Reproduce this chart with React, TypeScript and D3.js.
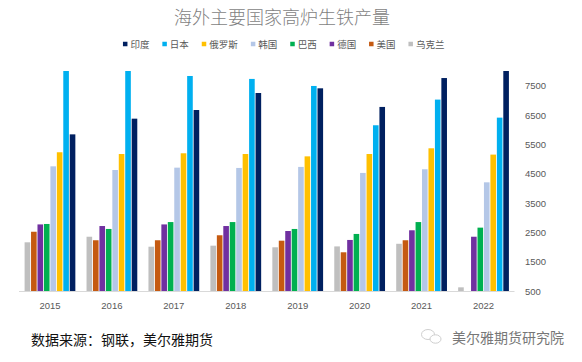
import React from "react";
import * as d3 from "d3";

const years = ["2015", "2016", "2017", "2018", "2019", "2020", "2021", "2022"];
// Bar order within each group (left to right)
const barSeries = ["乌克兰", "美国", "德国", "巴西", "韩国", "俄罗斯", "日本", "印度"];
// Legend order
const legendSeries = ["印度", "日本", "俄罗斯", "韩国", "巴西", "德国", "美国", "乌克兰"];

const ukraine = [2160, 2350, 2010, 2045, 1990, 2020, 2110, 625];
const usa = [2520, 2230, 2230, 2400, 2215, 1820, 2230, null];
const germany = [2770, 2715, 2770, 2715, 2545, 2240, 2570, 2350];
const brazil = [2785, 2615, 2850, 2850, 2615, 2445, 2850, 2660];
const korea = [4750, 4625, 4705, 4695, 4730, 4525, 4650, 4205];
const russia = [5230, 5170, 5195, 5170, 5090, 5170, 5365, 5150];
const japan = [8100, 8050, 7830, 7730, 7490, 6150, 7025, 6410];
const india = [5840, 6375, 6670, 7250, 7410, 6775, 7760, 8050];

const yTicks = [500, 1500, 2500, 3500, 4500, 5500, 6500, 7500];

const seriesValues: Record<string, (number | null)[]> = {
  乌克兰: ukraine,
  美国: usa,
  德国: germany,
  巴西: brazil,
  韩国: korea,
  俄罗斯: russia,
  日本: japan,
  印度: india,
};

const colors: Record<string, string> = {
  印度: "#002060",
  日本: "#00B0F0",
  俄罗斯: "#FFC000",
  韩国: "#B4C7E7",
  巴西: "#00B050",
  德国: "#7030A0",
  美国: "#C55A11",
  乌克兰: "#BFBFBF",
};

const W = 582;
const H = 362;
const plot = { left: 19, right: 514.5, top: 71, bottom: 291 };
const cjk = "'Noto Sans CJK SC', 'Noto Sans', sans-serif";
const num = "'Liberation Sans', 'DejaVu Sans', sans-serif";

export default function App() {
  const x0 = d3
    .scaleBand<string>()
    .domain(years)
    .range([plot.left, plot.right])
    .paddingInner(0.168)
    .paddingOuter(0.084);
  const x1 = d3
    .scaleBand<string>()
    .domain(barSeries)
    .range([0, x0.bandwidth()])
    .paddingInner(0.13)
    .paddingOuter(0.06);
  const y = d3
    .scaleLinear()
    .domain([500, 8000])
    .range([plot.bottom, plot.top])
    .clamp(true);

  // legend layout
  const charW = 9.7;
  const markerS = 4.5;
  const items = legendSeries.map((s) => ({
    s,
    w: markerS + 3 + s.length * charW + 12.5,
  }));
  const totalW = d3.sum(items, (d) => d.w) - 12.5;
  let lx = 284 - totalW / 2;
  const legendItems = items.map((it) => {
    const r = { ...it, x: lx };
    lx += it.w;
    return r;
  });
  const legendY = 44;

  return (
    <svg
      width={W}
      height={H}
      style={{ position: "absolute", left: 0, top: 0, background: "#fff" }}
    >
      <rect x={0} y={0} width={W} height={H} fill="#fff" />
      <text
        x={282}
        y={15.5}
        textAnchor="middle"
        dominantBaseline="central"
        fontFamily={cjk}
        fontSize={18}
        fontWeight={300}
        fill="#7f7f7f"
      >
        海外主要国家高炉生铁产量
      </text>

      {legendItems.map((d) => (
        <g key={d.s}>
          <rect
            x={d.x}
            y={legendY - markerS / 2}
            width={markerS}
            height={markerS}
            fill={colors[d.s]}
          />
          <text
            x={d.x + markerS + 3}
            y={legendY}
            dominantBaseline="central"
            fontFamily={cjk}
            fontSize={9.5}
            fill="#595959"
          >
            {d.s}
          </text>
        </g>
      ))}

      {years.map((yr, i) => (
        <g key={yr} transform={`translate(${x0(yr)},0)`}>
          {barSeries.map((s) => {
            const v = seriesValues[s][i];
            if (v == null) return null;
            const top = y(v);
            return (
              <rect
                key={s}
                x={x1(s)}
                y={top}
                width={x1.bandwidth()}
                height={plot.bottom - top}
                fill={colors[s]}
              />
            );
          })}
        </g>
      ))}

      <line
        x1={plot.left}
        x2={plot.right}
        y1={plot.bottom + 0.5}
        y2={plot.bottom + 0.5}
        stroke="#D9D9D9"
        strokeWidth={1}
      />

      {years.map((yr) => (
        <text
          key={yr}
          x={(x0(yr) as number) + x0.bandwidth() / 2}
          y={305.5}
          textAnchor="middle"
          dominantBaseline="central"
          fontFamily={num}
          fontSize={9.5}
          fill="#595959"
        >
          {yr}
        </text>
      ))}

      {yTicks.map((t) => (
        <text
          key={t}
          x={525}
          y={y(t)}
          dominantBaseline="central"
          fontFamily={num}
          fontSize={9.5}
          fill="#595959"
        >
          {t}
        </text>
      ))}

      <text
        x={31}
        y={339}
        dominantBaseline="central"
        fontFamily={cjk}
        fontSize={14}
        fill="#111"
      >
        数据来源：钢联，美尔雅期货
      </text>

      <g fill="none" stroke="#c8c8c8" strokeWidth={0.9}>
        <ellipse cx={428} cy={334.5} rx={6.5} ry={5} />
        <ellipse cx={435.5} cy={339} rx={5.5} ry={4.2} fill="#fff" />
      </g>
      <text
        x={452}
        y={336.5}
        dominantBaseline="central"
        fontFamily={cjk}
        fontSize={14}
        fill="#777"
      >
        美尔雅期货研究院
      </text>
    </svg>
  );
}
